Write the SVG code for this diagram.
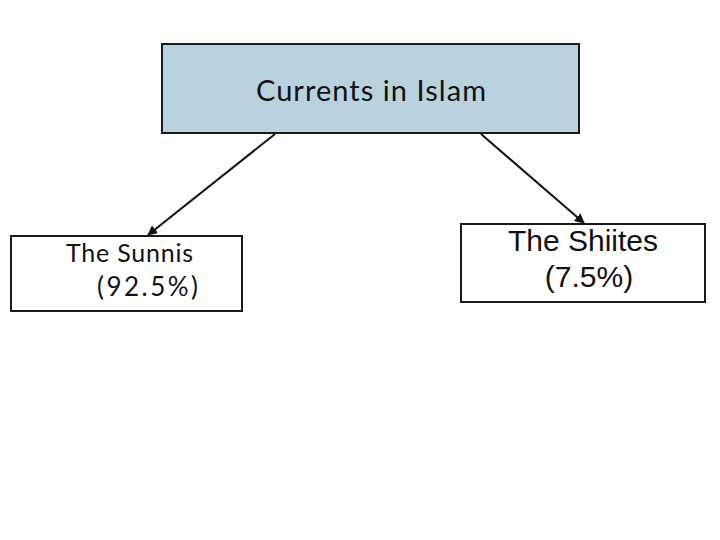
<svg xmlns="http://www.w3.org/2000/svg" width="720" height="540" viewBox="0 0 720 540">
<defs>
<style>
.box{stroke:#1a1a1a;stroke-width:2}
.fut{font-family:"Lato","Open Sans",sans-serif;fill:#111}
.ari{font-family:"Liberation Sans",Arial,sans-serif;fill:#111}
.con{stroke:#111;stroke-width:2;fill:none;marker-end:url(#ah)}
</style>
<marker id="ah" viewBox="0 0 10 10" refX="9" refY="5" markerWidth="5" markerHeight="5" orient="auto" markerUnits="strokeWidth">
<path d="M0,0 L10,5 L0,10 z" fill="#111"/>
</marker>
</defs>
<rect width="720" height="540" fill="#fff"/>
<g id="connectors">
<line class="con" x1="275" y1="134" x2="148" y2="235"/>
<line class="con" x1="481" y1="134" x2="584" y2="223"/>
</g>
<g id="root">
<rect class="box" x="162" y="44" width="417" height="89" fill="#b8d3df"/>
<text class="fut" x="256" y="101" font-size="29" textLength="230" lengthAdjust="spacing">Currents in Islam</text>
</g>
<g id="sunnis">
<rect class="box" x="11" y="236" width="231" height="75" fill="#fff"/>
<text class="fut" x="66" y="262" font-size="25" textLength="127" lengthAdjust="spacing">The Sunnis</text>
<text class="fut" x="97" y="296" font-size="26" textLength="101" lengthAdjust="spacing">(92.5%)</text>
</g>
<g id="shiites">
<rect class="box" x="461" y="224" width="244" height="78" fill="#fff"/>
<text class="ari" x="583" y="251" font-size="30" text-anchor="middle">The Shiites</text>
<text class="ari" x="589" y="287" font-size="30" text-anchor="middle">(7.5%)</text>
</g>
</svg>
